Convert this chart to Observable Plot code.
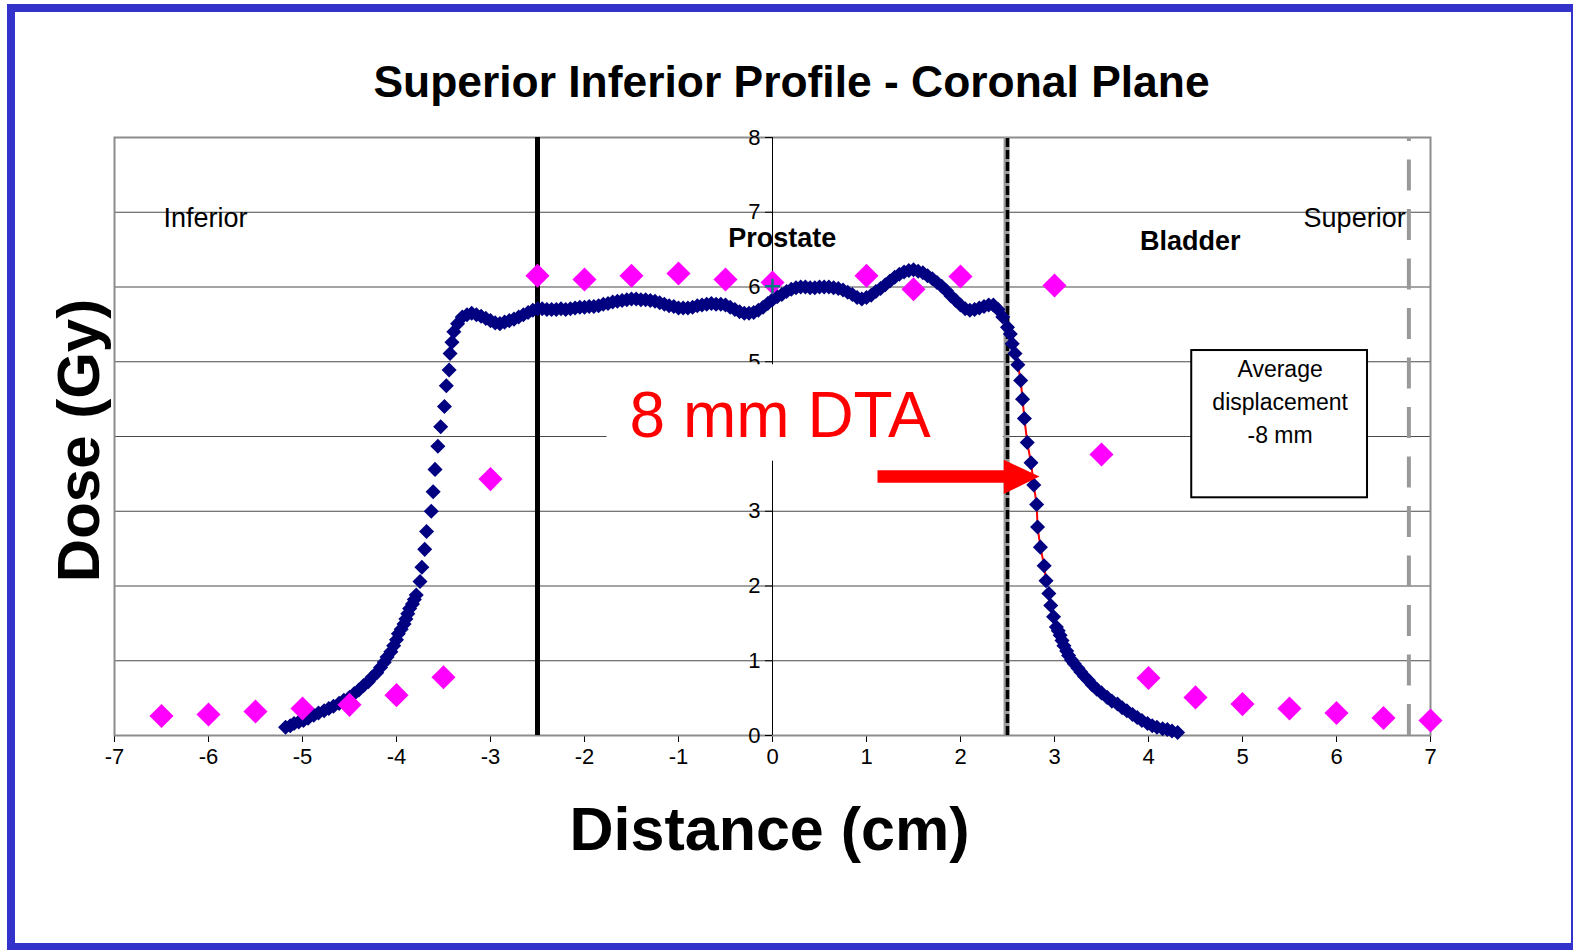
<!DOCTYPE html>
<html>
<head>
<meta charset="utf-8">
<script src="https://cdn.jsdelivr.net/npm/d3@7"></script>
<script src="https://cdn.jsdelivr.net/npm/@observablehq/plot@0.6"></script>
<style>
  html, body { margin: 0; padding: 0; background: #fff; }
  #wrap { position: relative; width: 1573px; height: 950px; overflow: hidden; background: #fff; }
  #chart { position: absolute; left: 0; top: 0; }
  #border { position: absolute; left: 7px; top: 4px; width: 1556px; height: 931px; border: 8px solid #3333cc; pointer-events: none; }
</style>
</head>
<body>
<div id="wrap"><div id="chart"></div><div id="border"></div></div>
<script>
// ---- Data ----
const xTicks = [-7, -6, -5, -4, -3, -2, -1, 0, 1, 2, 3, 4, 5, 6, 7];
const yTicks = [0, 1, 2, 3, 4, 5, 6, 7, 8];
const yTicksHidden = [4]; // covered by the "8 mm DTA" text box in the reference
const gridDoses = [1, 2, 3, 4, 5, 6, 7];

// Measured points (magenta diamonds)
const measuredX = [-6.5, -6, -5.5, -5, -4.5, -4, -3.5, -3, -2.5, -2, -1.5, -1, -0.5, 0, 1, 1.5, 2, 3, 3.5, 4, 4.5, 5, 5.5, 6, 6.5, 7];
const measuredDose = [0.26, 0.28, 0.32, 0.36, 0.41, 0.54, 0.78, 3.43, 6.15, 6.10, 6.15, 6.18, 6.10, 6.06, 6.15, 5.97, 6.14, 6.02, 3.76, 0.77, 0.51, 0.42, 0.36, 0.30, 0.235, 0.20];

// Calculated profile (navy diamonds)
const profileX = [
  -5.18, -5.13, -5.09, -5.04, -4.99, -4.94, -4.88, -4.83, -4.77, -4.72, -4.67, -4.61, -4.56, -4.50, -4.45, -4.40,
  -4.35, -4.30, -4.26, -4.21, -4.17, -4.13, -4.10, -4.06, -4.03, -4.00, -3.98, -3.95, -3.92, -3.90, -3.88, -3.86,
  -3.83, -3.81, -3.79, -3.75, -3.73, -3.70, -3.68, -3.63, -3.61, -3.59, -3.56, -3.53, -3.49, -3.47, -3.44, -3.43,
  -3.41, -3.39, -3.35,
  -3.30, -3.25, -3.20, -3.15, -3.10, -3.05, -3.00, -2.95, -2.90, -2.85, -2.80, -2.75, -2.70, -2.65, -2.60, -2.55,
  -2.50, -2.45, -2.40, -2.35, -2.30, -2.25, -2.20, -2.15, -2.10, -2.05, -2.00, -1.95, -1.90, -1.85, -1.80, -1.75,
  -1.70, -1.65, -1.60, -1.55, -1.50, -1.45, -1.40, -1.35, -1.30, -1.25, -1.20, -1.15, -1.10, -1.05, -1.00, -0.95,
  -0.90, -0.85, -0.80, -0.75, -0.70, -0.65, -0.60, -0.55, -0.50, -0.45, -0.40, -0.35, -0.30, -0.25, -0.20, -0.15,
  -0.10, -0.05, 0.00, 0.05, 0.10, 0.15, 0.20, 0.25, 0.30, 0.35, 0.40, 0.45, 0.50, 0.55, 0.60, 0.65,
  0.70, 0.75, 0.80, 0.85, 0.90, 0.95, 1.00, 1.05, 1.10, 1.15, 1.20, 1.25, 1.30, 1.35, 1.40, 1.45,
  1.50, 1.55, 1.60, 1.65, 1.70, 1.75, 1.80, 1.85, 1.90, 1.95, 2.00, 2.05, 2.10, 2.15, 2.20, 2.25,
  2.30, 2.35, 2.40, 2.45, 2.50,
  2.53, 2.55, 2.58, 2.61, 2.64, 2.66, 2.68, 2.71, 2.75, 2.78, 2.81, 2.82, 2.85, 2.89, 2.91, 2.94,
  2.96, 2.99, 3.02, 3.04, 3.06, 3.08, 3.10, 3.13, 3.15, 3.18, 3.21, 3.25, 3.28, 3.32, 3.36, 3.40,
  3.45, 3.50, 3.56, 3.61, 3.67, 3.72, 3.77, 3.83, 3.88, 3.93, 3.99, 4.04, 4.09, 4.15, 4.20, 4.25, 4.31
];
const profileDose = [
  0.11, 0.13, 0.16, 0.18, 0.20, 0.23, 0.27, 0.30, 0.33, 0.36, 0.39, 0.43, 0.47, 0.51, 0.56, 0.61,
  0.67, 0.72, 0.78, 0.84, 0.91, 0.98, 1.05, 1.12, 1.20, 1.28, 1.36, 1.42, 1.49, 1.56, 1.63, 1.70,
  1.76, 1.82, 1.88, 2.06, 2.25, 2.49, 2.73, 3.00, 3.26, 3.56, 3.87, 4.13, 4.40, 4.68, 4.89, 5.11,
  5.26, 5.40, 5.51,
  5.60, 5.63, 5.65, 5.63, 5.61, 5.58, 5.55, 5.52, 5.51, 5.53, 5.55, 5.57, 5.60, 5.63, 5.66, 5.69,
  5.71, 5.71, 5.70, 5.70, 5.70, 5.71, 5.70, 5.71, 5.72, 5.73, 5.73, 5.74, 5.74, 5.75, 5.77, 5.78,
  5.80, 5.81, 5.82, 5.83, 5.84, 5.84, 5.83, 5.83, 5.82, 5.81, 5.79, 5.77, 5.75, 5.74, 5.72, 5.72,
  5.72, 5.73, 5.75, 5.76, 5.77, 5.78, 5.77, 5.77, 5.76, 5.73, 5.70, 5.67, 5.65, 5.65, 5.66, 5.69,
  5.73, 5.78, 5.83, 5.87, 5.90, 5.94, 5.97, 5.99, 6.00, 6.00, 5.99, 5.99, 6.00, 6.00, 6.00, 5.99,
  5.98, 5.96, 5.93, 5.90, 5.86, 5.84, 5.86, 5.89, 5.94, 5.98, 6.03, 6.08, 6.13, 6.17, 6.20, 6.22,
  6.23, 6.21, 6.19, 6.15, 6.11, 6.06, 6.01, 5.95, 5.88, 5.82, 5.76, 5.71, 5.69, 5.70, 5.72, 5.74,
  5.76, 5.76, 5.70, 5.60, 5.46,
  5.37, 5.24, 5.11, 4.96, 4.75, 4.50, 4.24, 3.92, 3.65, 3.35, 3.09, 2.79, 2.52, 2.27, 2.07, 1.90,
  1.74, 1.59, 1.45, 1.40, 1.34, 1.27, 1.20, 1.13, 1.07, 1.01, 0.96, 0.90, 0.85, 0.79, 0.74, 0.68,
  0.62, 0.57, 0.51, 0.46, 0.42, 0.37, 0.33, 0.28, 0.24, 0.20, 0.16, 0.13, 0.11, 0.09, 0.08, 0.06, 0.04
];

// Reference point (teal plus)
const refX = [0];
const refDose = [6.01];

// Vertical structure boundaries (cm)
const prostateInf = [-2.5];
const prostateSup = [2.49];
const superiorEdge = [6.77];

// Region labels
const regionLabels = ["Inferior", "Superior"];
const regionX = [-6.48, 5.65];
const regionDose = [6.80, 6.80];
const organLabels = ["Prostate", "Bladder"];
const organX = [-0.47, 3.91];
const organDose = [6.54, 6.50];

// Red line along falloff (x range)
const dtaRange = [2.55, 2.92];

// DTA annotation
const dtaText = ["8 mm DTA"];
const dtaBox = [{x1: -1.76, x2: 2.455, y1: 3.67, y2: 4.96}];
const dtaTextPos = [{x: -1.52, y: 3.99}];
const arrowShaft = [{x: 1.117, y: 3.465}, {x: 2.47, y: 3.465}];
const arrowHead = [{x: 2.46, y: 3.69}, {x: 2.84, y: 3.465}, {x: 2.46, y: 3.23}];

// Average displacement box
const avgBox = [{x1: 4.46, x2: 6.33, y1: 3.18, y2: 5.15}];
const avgLines = ["Average", "displacement", "-8 mm"];
const avgLineDose = [4.80, 4.35, 3.91];
const avgX = 5.40;

// ---- Build tables ----
const profile = profileX.map((x, i) => ({x, dose: profileDose[i]}));
const measured = measuredX.map((x, i) => ({x, dose: measuredDose[i]}));
const refPts = refX.map((x, i) => ({x, dose: refDose[i]}));
const dtaLine = profile.filter(d => d.x >= dtaRange[0] && d.x <= dtaRange[1]);
const yLabelTicks = yTicks.filter(d => !yTicksHidden.includes(d));

const diamond = {
  draw(ctx, size) {
    const h = Math.sqrt(size / 2);
    ctx.moveTo(0, -h); ctx.lineTo(h, 0); ctx.lineTo(0, h); ctx.lineTo(-h, 0); ctx.closePath();
  }
};
const plus = {
  draw(ctx, size) {
    const h = Math.sqrt(size) / 2;
    ctx.moveTo(-h, 0); ctx.lineTo(h, 0); ctx.moveTo(0, -h); ctx.lineTo(0, h);
  }
};

const FONT = "'Liberation Sans', Arial, Helvetica, sans-serif";

const chart = Plot.plot({
  width: 1573,
  height: 950,
  marginLeft: 114,
  marginRight: 143,
  marginTop: 137,
  marginBottom: 215,
  style: {fontFamily: FONT, fontSize: "22px", color: "#000", background: "transparent", overflow: "visible"},
  x: {domain: [-7, 7], ticks: xTicks, tickSize: 7, tickPadding: 6, tickFormat: d => String(d), label: null},
  y: {domain: [0, 8], axis: null},
  marks: [
    // gridlines
    Plot.ruleY(gridDoses, {y: d => d, stroke: "#4a4a4a", strokeWidth: 1.2}),
    Plot.frame({stroke: "#8c8c8c", strokeWidth: 2}),
    // boundaries
    Plot.ruleX(superiorEdge, {x: d => d, y1: 0, y2: 8, stroke: "#999", strokeWidth: 4, strokeDasharray: "31,18.5"}),
    Plot.ruleX(prostateInf, {x: d => d, y1: 0, y2: 8, stroke: "#000", strokeWidth: 5}),
    Plot.ruleX(prostateSup, {x: d => d, y1: 0, y2: 8, stroke: "#9a9a9a", strokeWidth: 6}),
    Plot.ruleX(prostateSup, {x: d => d + 0.01, y1: 0, y2: 8, stroke: "#000", strokeWidth: 3.5, strokeDasharray: "9,3"}),
    // y axis drawn at x = 0
    Plot.ruleX([0], {x: d => d, y1: 0, y2: 8, stroke: "#000", strokeWidth: 1}),
    Plot.ruleY(yTicks, {y: d => d, x1: 0, x2: 0, insetLeft: -7, stroke: "#000", strokeWidth: 1}),
    Plot.text(yLabelTicks, {x: 0, y: d => d, text: d => String(d), dx: -12, textAnchor: "end", lineAnchor: "middle", fontSize: 22, fill: "#000"}),
    // region labels
    Plot.text(regionLabels, {x: (d, i) => regionX[i], y: (d, i) => regionDose[i], text: d => d, textAnchor: "start", lineAnchor: "bottom", fontSize: 27, fill: "#000"}),
    Plot.text(organLabels, {x: (d, i) => organX[i], y: (d, i) => organDose[i], text: d => d, textAnchor: "start", lineAnchor: "bottom", fontSize: 27, fontWeight: "bold", fill: "#000"}),
    // red line along falloff
    Plot.line(dtaLine, {x: "x", y: "dose", stroke: "#ff0000", strokeWidth: 2}),
    // calculated profile
    Plot.dot(profile, {x: "x", y: "dose", symbol: diamond, r: 6.0, fill: "#000080", stroke: "none"}),
    // measured
    Plot.dot(measured, {x: "x", y: "dose", symbol: diamond, r: 9.6, fill: "#ff00ff", stroke: "none"}),
    // reference plus
    Plot.dot(refPts, {x: "x", y: "dose", symbol: plus, r: 8.5, fill: "none", stroke: "#008080", strokeWidth: 2.5}),
    // DTA annotation
    Plot.rect(dtaBox, {x1: "x1", x2: "x2", y1: "y1", y2: "y2", fill: "#fff", stroke: "none"}),
    Plot.text(dtaText, {x: () => dtaTextPos[0].x, y: () => dtaTextPos[0].y, text: d => d, textAnchor: "start", lineAnchor: "bottom", fontSize: 64, fill: "#ff0000"}),
    Plot.line(arrowShaft, {x: "x", y: "y", stroke: "#ff0000", strokeWidth: 12.5, strokeLinecap: "butt"}),
    Plot.line(arrowHead, {x: "x", y: "y", fill: "#ff0000", stroke: "none"}),
    // Average displacement box
    Plot.rect(avgBox, {x1: "x1", x2: "x2", y1: "y1", y2: "y2", fill: "#fff", stroke: "#000", strokeWidth: 2}),
    Plot.text(avgLines, {x: avgX, y: (d, i) => avgLineDose[i], text: d => d, textAnchor: "middle", lineAnchor: "bottom", fontSize: 23, fill: "#000"}),
    // titles
    Plot.text(["Superior Inferior Profile - Coronal Plane"], {frameAnchor: "top", dx: 19, dy: -41, textAnchor: "middle", lineAnchor: "bottom", fontSize: 44.4, fontWeight: "bold", fill: "#000"}),
    Plot.text(["Distance (cm)"], {frameAnchor: "bottom", dx: -3, dy: 114, textAnchor: "middle", lineAnchor: "bottom", fontSize: 61, fontWeight: "bold", fill: "#000"}),
    Plot.text(["Dose (Gy)"], {frameAnchor: "left", dx: -16, dy: 4, rotate: -90, textAnchor: "middle", lineAnchor: "bottom", fontSize: 60, fontWeight: "bold", fill: "#000"})
  ]
});
document.getElementById("chart").appendChild(chart);
</script>
</body>
</html>
